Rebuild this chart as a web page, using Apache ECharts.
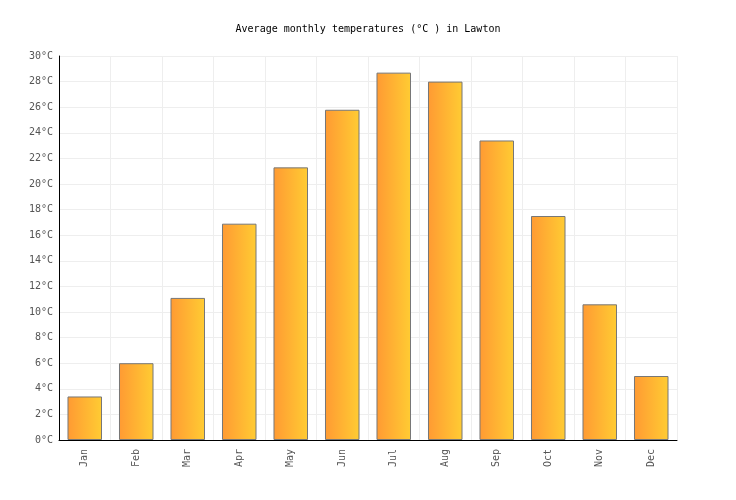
<!DOCTYPE html>
<html>
<head>
<meta charset="utf-8">
<script src="https://cdn.jsdelivr.net/npm/echarts@6/dist/echarts.min.js"></script>
<style>html,body{margin:0;padding:0;background:#fff}#c{width:736px;height:500px}</style>
</head>
<body>
<div id="c"></div>
<script>
var titleText = 'Average monthly temperatures (°C ) in Lawton';
var months = ['Jan','Feb','Mar','Apr','May','Jun','Jul','Aug','Sep','Oct','Nov','Dec'];
var temps = [3.4, 6.0, 11.1, 16.9, 21.3, 25.8, 28.7, 28.0, 23.4, 17.5, 10.6, 5.0];
var yMin = 0, yMax = 30, yStep = 2;

var font = '"DejaVu Sans Mono", "Liberation Mono", monospace';
var chart = echarts.init(document.getElementById('c'));
chart.setOption({
  animation: false,
  title: {
    text: titleText, left: 'center', top: 19,
    textStyle: {fontFamily: font, fontSize: 10, fontWeight: 'normal', color: '#000'}
  },
  grid: {left: 59, right: 59, top: 56, bottom: 60, containLabel: false},
  xAxis: {
    type: 'category', data: months,
    axisLine: {lineStyle: {color: '#000', width: 1}},
    axisTick: {show: false},
    splitLine: {show: true, lineStyle: {color: '#eeeeee'}},
    axisLabel: {rotate: 90, fontFamily: font, fontSize: 10, color: '#555', margin: 9}
  },
  yAxis: {
    type: 'value', min: yMin, max: yMax, interval: yStep,
    axisLine: {show: true, lineStyle: {color: '#000', width: 1}},
    axisTick: {show: false},
    splitLine: {lineStyle: {color: '#eeeeee'}},
    axisLabel: {formatter: '{value}°C', fontFamily: font, fontSize: 10, color: '#555', margin: 6}
  },
  series: [{
    type: 'bar', data: temps, barCategoryGap: '33%',
    itemStyle: {
      color: new echarts.graphic.LinearGradient(0, 0, 1, 0, [
        {offset: 0, color: '#ff9a33'},
        {offset: 1, color: '#ffcc33'}
      ]),
      borderColor: '#777', borderWidth: 1
    }
  }]
});
</script>
</body>
</html>
